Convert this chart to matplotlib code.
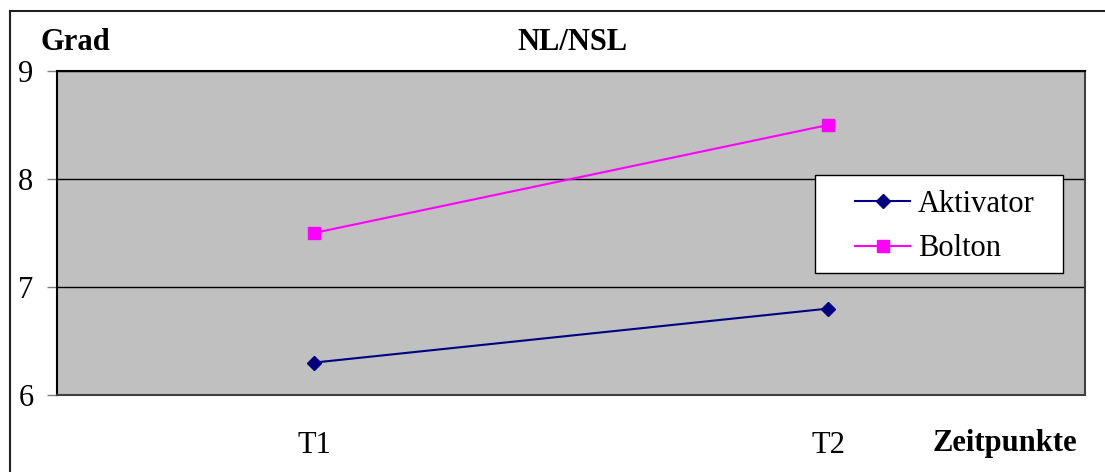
import matplotlib
matplotlib.use("Agg")
from matplotlib import pyplot as plt
from matplotlib.lines import Line2D
from matplotlib.patches import Rectangle

# Data
categories = ["T1", "T2"]
aktivator = [6.3, 6.8]
bolton = [7.5, 8.5]
y_ticks = [6, 7, 8, 9]

plt.rcParams['font.family'] = ['Liberation Serif', 'DejaVu Serif']

W, H = 1105, 472
fs = 22
fig = plt.figure(figsize=(W / 100, H / 100), dpi=100)
fig.patch.set_facecolor('white')

# plot area in pixels: left 57, right 1085, top 71, bottom 395
left, right, top, bottom = 57, 1085, 71, 395
ax = fig.add_axes([left / W, 1 - bottom / H, (right - left) / W, (bottom - top) / H])
ax.set_facecolor('#C0C0C0')

x = [0.5, 1.5]
ax.plot(x, aktivator, color='#000080', marker='D', markersize=7, linewidth=1.5, label='Aktivator')
ax.plot(x, bolton, color='#FF00FF', marker='s', markersize=9, linewidth=1.5, label='Bolton')

ax.set_xlim(0, 2)
ax.set_ylim(6, 9)
ax.set_yticks(y_ticks)
ax.set_yticklabels([str(t) for t in y_ticks], fontsize=fs)
ax.set_xticks(x)
ax.set_xticklabels(categories, fontsize=fs)
ax.tick_params(axis='x', length=0, pad=26)
ax.tick_params(axis='y', length=7, width=1, color='#808080', pad=10)
ax.yaxis.grid(True, color='black', linewidth=1)
ax.set_axisbelow(True)

for side in ['left', 'top']:
    ax.spines[side].set_color('black')
    ax.spines[side].set_linewidth(1.5)
for side in ['right', 'bottom']:
    ax.spines[side].set_color('#404040')
    ax.spines[side].set_linewidth(1.5)

# legend box (pixels: 815..1063 x 175..273)
lx0, lx1, ly0, ly1 = 815, 1063, 175, 273
box = Rectangle((lx0 / W, 1 - ly1 / H), (lx1 - lx0) / W, (ly1 - ly0) / H, transform=fig.transFigure,
                facecolor='white', edgecolor='black', linewidth=1, zorder=4.5, clip_on=False)
ax.add_patch(box)
leg = ax.legend(loc='upper left', bbox_to_anchor=(855 / W, 1 - 190 / H), bbox_transform=fig.transFigure,
                fontsize=fs, frameon=False, handlelength=1.8, handletextpad=0.25,
                borderpad=0, labelspacing=0.5, borderaxespad=0)
leg.set_zorder(6)

# texts
fig.text(40 / W, 1 - 43 / H, 'Grad', fontsize=fs, fontweight='bold', ha='left', va='center')
fig.text(572 / W, 1 - 43 / H, 'NL/NSL', fontsize=fs, fontweight='bold', ha='center', va='center')
fig.text(1077 / W, 1 - 444 / H, 'Zeitpunkte', fontsize=fs, fontweight='bold', ha='right', va='center')

# outer frame (only left and top visible)
fig.add_artist(Line2D([10 / W, 10 / W], [0, 1 - 11 / H], color='#202020', linewidth=1.5, transform=fig.transFigure))
fig.add_artist(Line2D([10 / W, 1], [1 - 11 / H, 1 - 11 / H], color='#202020', linewidth=1.5, transform=fig.transFigure))

fig.savefig('out.png', dpi=100)
